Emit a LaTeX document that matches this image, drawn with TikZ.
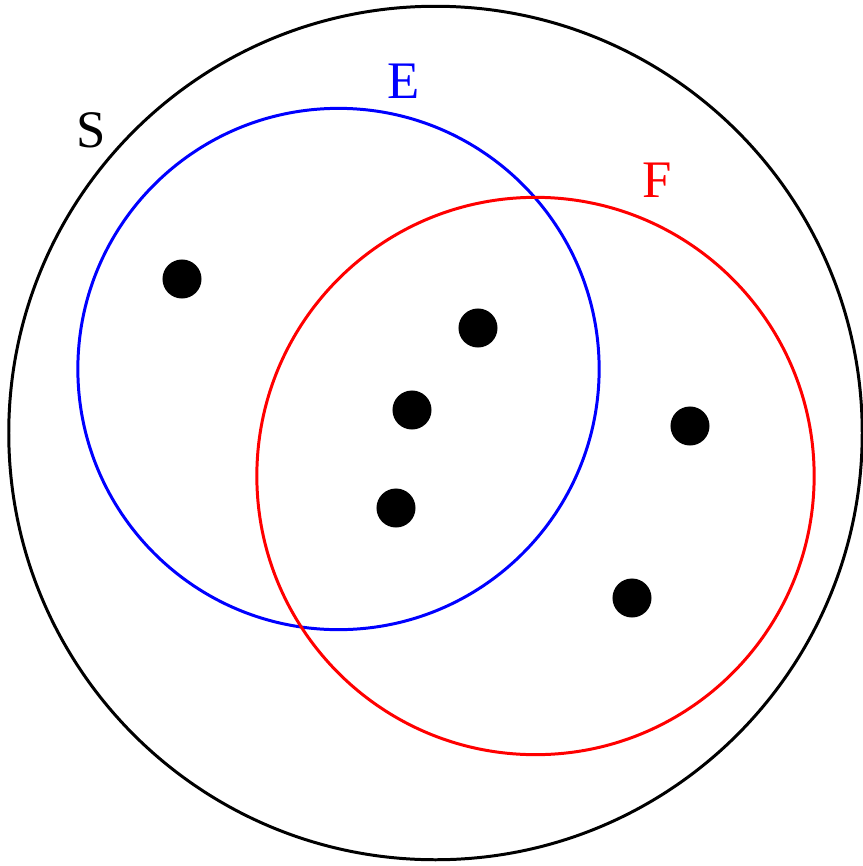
\documentclass[tikz,border=0pt]{standalone}
\usepackage{fontspec}
\setmainfont{Liberation Serif}
\usetikzlibrary{positioning}

\begin{document}
\begin{tikzpicture}[
    x=0.01cm, y=-0.01cm,
    setline/.style={line width=0.85pt},
    outcome/.style={circle, fill=black, inner sep=0pt, minimum size=0.39cm},
    setlabel/.style={font=\fontsize{15}{18}\selectfont, inner sep=0pt}
]
\useasboundingbox (0,0) rectangle (863,866);

% Sample space S
\draw[setline, black] (435.5,433) circle[radius=4.265cm];
\node[setlabel] (labelS) at (91,130) {S};

% Event E
\draw[setline, blue] (338.5,369) circle[radius=2.605cm];
\node[setlabel, text=blue] (labelE) at (404,81) {E};

% Event F
\draw[setline, red] (535.5,476) circle[radius=2.785cm];
\node[setlabel, text=red] (labelF) at (657,180) {F};

% Outcomes
\node[outcome] (o1) at (182,279) {};
\node[outcome] (o2) at (478,328) {};
\node[outcome] (o3) at (412,410) {};
\node[outcome] (o4) at (396,508) {};
\node[outcome] (o5) at (690,426) {};
\node[outcome] (o6) at (632,598) {};

\end{tikzpicture}
\end{document}
